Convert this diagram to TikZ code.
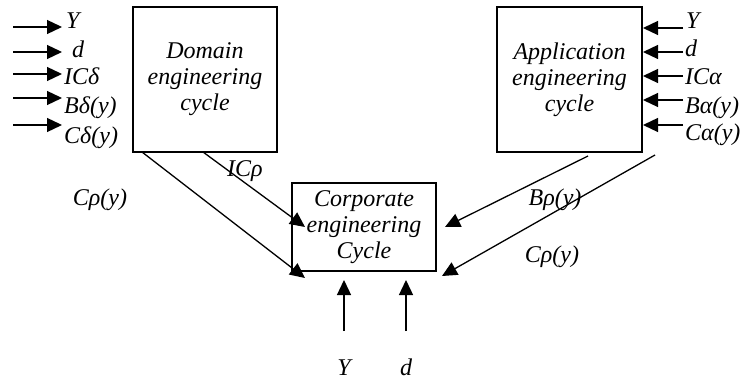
\documentclass[tikz,border=0pt]{standalone}
\usepackage{fontspec}
\setmainfont{Liberation Serif}
\usetikzlibrary{arrows.meta}
\begin{document}
\begin{tikzpicture}[x=1pt,y=-1pt,
  box/.style={draw, line width=1.6pt, inner sep=0pt, align=center,
    font=\fontsize{24}{26}\selectfont\itshape},
  lbl/.style={font=\fontsize{24}{26}\selectfont\itshape, inner sep=0pt},
  arr/.style={line width=1.3pt, -{Triangle[length=15pt,width=14pt]}},
]
\useasboundingbox (0,0) rectangle (743,379);
% boxes
\node[box, minimum width=144pt, minimum height=145pt] (D) at (205,79.5) {Domain\\engineering\\cycle};
\node[box, minimum width=145pt, minimum height=145pt] (A) at (569.5,79.5) {Application\\engineering\\cycle};
\node[box, minimum width=144pt, minimum height=88pt] (C) at (364,227) {Corporate\\engineering\\Cycle};
% left inputs
\foreach \i/\y in {1/27,2/52,3/74,4/98,5/125}{
  \coordinate (ls\i) at (13,\y); \coordinate (le\i) at (62,\y);
  \draw[arr] (ls\i) -- (le\i);
}
\node[lbl, anchor=base west] (lY) at (66,29) {Y};
\node[lbl, anchor=base west] (ld) at (72,58) {d};
\node[lbl, anchor=base west] (lIC) at (64,85) {ICδ};
\node[lbl, anchor=base west] (lB) at (64,114) {Bδ(y)};
\node[lbl, anchor=base west] (lC) at (64,144) {Cδ(y)};
% right inputs
\foreach \i/\y in {1/28,2/52,3/76,4/100,5/125}{
  \coordinate (rs\i) at (683,\y); \coordinate (re\i) at (643,\y);
  \draw[arr] (rs\i) -- (re\i);
}
\node[lbl, anchor=base west] (rY) at (686,29) {Y};
\node[lbl, anchor=base west] (rd) at (685,57) {d};
\node[lbl, anchor=base west] (rIC) at (685,85) {ICα};
\node[lbl, anchor=base west] (rB) at (685,114) {Bα(y)};
\node[lbl, anchor=base west] (rC) at (685,141) {Cα(y)};
% diagonal connectors
\coordinate (d1s) at (142,152); \coordinate (d1e) at (305,278);
\coordinate (d2s) at (203,152); \coordinate (d2e) at (305,227);
\coordinate (a1s) at (588,156); \coordinate (a1e) at (445,227);
\coordinate (a2s) at (655,155); \coordinate (a2e) at (442,276);
\draw[arr] (d1s) -- (d1e);
\draw[arr] (d2s) -- (d2e);
\draw[arr] (a1s) -- (a1e);
\draw[arr] (a2s) -- (a2e);
\node[lbl] (ICr) at (245,171) {ICρ};
\node[lbl] (Cl) at (100,200) {Cρ(y)};
\node[lbl] (Br) at (555,200) {Bρ(y)};
\node[lbl] (Cr) at (552,257) {Cρ(y)};
% bottom inputs
\coordinate (bYs) at (344,331); \coordinate (bYe) at (344,280);
\coordinate (bds) at (406,331); \coordinate (bde) at (406,280);
\draw[arr] (bYs) -- (bYe);
\draw[arr] (bds) -- (bde);
\node[lbl, anchor=base] (bY) at (344,375) {Y};
\node[lbl, anchor=base] (bd) at (406,375) {d};
\end{tikzpicture}
\end{document}
